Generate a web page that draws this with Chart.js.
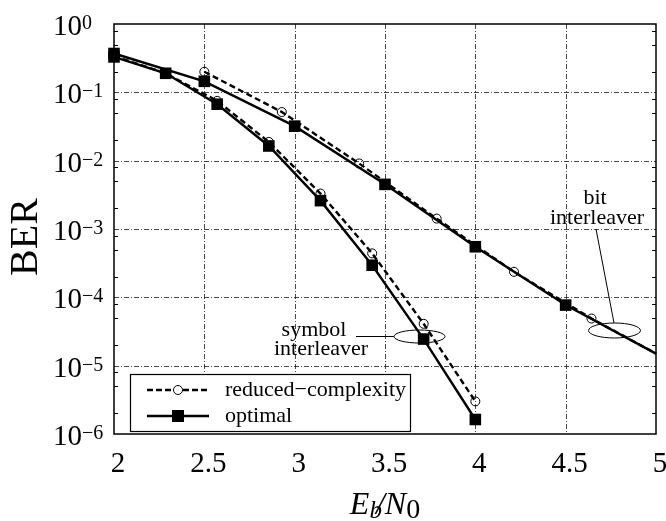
<!DOCTYPE html>
<html>
<head>
<meta charset="utf-8">
<script src="https://cdn.jsdelivr.net/npm/chart.js@4.4.1/dist/chart.umd.min.js"></script>
<style>
html,body{margin:0;padding:0;background:#fff;}
#wrap{width:666px;height:521px;}
</style>
</head>
<body>
<div id="wrap"><canvas id="c" width="666" height="521"></canvas></div>
<script>
// ---- data ----
const bitX      = [2, 2.5, 3, 3.5, 4, 4.5, 5];
const bitOpt    = [0.37, 0.145, 0.032, 0.0045, 5.5e-4, 7.7e-5, 1.5e-5];
const bitRedX   = [2.5, 2.929, 3.357, 3.786, 4.214, 4.643, 5];
const bitRed    = [0.2, 0.0515, 0.0091, 0.00142, 2.36e-4, 4.9e-5, 1.5e-5];
const symX      = [2, 2.286, 2.571, 2.857, 3.143, 3.429, 3.714, 4];
const symOpt    = [0.33, 0.19, 0.067, 0.0164, 0.0026, 2.95e-4, 2.45e-5, 1.63e-6];
const symRed    = [0.34, 0.19, 0.075, 0.0188, 0.0033, 4.4e-4, 4.1e-5, 3.0e-6];

const xTicks      = [2, 2.5, 3, 3.5, 4, 4.5, 5];
const xTickLabels = ['2', '2.5', '3', '3.5', '4', '4.5', '5'];
const yTicks      = [1, 1e-1, 1e-2, 1e-3, 1e-4, 1e-5, 1e-6];
const yTickExps   = ['0', '\u22121', '\u22122', '\u22123', '\u22124', '\u22125', '\u22126'];
const yMinorMult  = [2, 5, 8];

const legendLabels = ['reduced\u2212complexity', 'optimal'];
const xTitle = ['E', 'b', '/', 'N', '0'];
const yTitle = 'BER';
const noteBit = ['bit', 'interleaver'];
const noteSym = ['symbol', 'interleaver'];

function pts(xs, ys){ return xs.map((x,i)=>({x:x, y:ys[i]})); }

const SERIF = '"Liberation Serif","DejaVu Serif",serif';

const dashedStyle = {
  borderColor:'#000', borderWidth:2.4, borderDash:[6,3.5],
  pointStyle:'circle', pointBorderColor:'#000', pointBackgroundColor:'rgba(0,0,0,0)',
  pointBorderWidth:1, fill:false, tension:0, clip:false
};
const solidStyle = {
  borderColor:'#000', borderWidth:2.4,
  pointStyle:'rect', pointBorderColor:'#000', pointBackgroundColor:'#000',
  pointBorderWidth:0, fill:false, tension:0, clip:false
};

function radii(n, r, lastHidden){ const a = new Array(n).fill(r); if(lastHidden) a[n-1]=0; return a; }

const overlay = {
  id:'overlay',
  beforeDatasetsDraw(chart){
    const ctx = chart.ctx, xs = chart.scales.x, ys = chart.scales.y, a = chart.chartArea;
    ctx.save();
    ctx.strokeStyle = 'rgba(40,40,40,0.85)';
    ctx.lineWidth = 1;
    ctx.setLineDash([5,2,1,2]);
    xTicks.forEach(v=>{
      const px = Math.round(xs.getPixelForValue(v))+0.5;
      if (px < a.left+2 || px > a.right-2) return;
      ctx.beginPath(); ctx.moveTo(px, a.top); ctx.lineTo(px, a.bottom); ctx.stroke();
    });
    yTicks.forEach(v=>{
      const py = Math.round(ys.getPixelForValue(v))+0.5;
      if (py < a.top+2 || py > a.bottom-2) return;
      ctx.beginPath(); ctx.moveTo(a.left, py); ctx.lineTo(a.right, py); ctx.stroke();
    });
    ctx.setLineDash([]);
    // minor ticks
    ctx.strokeStyle = '#000';
    for (let i=1;i<yTicks.length;i++){
      yMinorMult.forEach(m=>{
        const val = yTicks[i]*m;
        const py = Math.round(ys.getPixelForValue(val))+0.5;
        ctx.beginPath(); ctx.moveTo(a.left, py); ctx.lineTo(a.left+4, py); ctx.stroke();
        ctx.beginPath(); ctx.moveTo(a.right, py); ctx.lineTo(a.right-4, py); ctx.stroke();
      });
    }
    ctx.restore();
  },
  afterDatasetsDraw(chart){
    const ctx = chart.ctx, xs = chart.scales.x, ys = chart.scales.y, a = chart.chartArea;
    ctx.save();
    // frame
    ctx.strokeStyle = '#000'; ctx.lineWidth = 1.5;
    ctx.strokeRect(a.left, a.top, a.right-a.left, a.bottom-a.top);
    // x tick labels
    ctx.fillStyle = '#000';
    ctx.font = '29px ' + SERIF;
    ctx.textAlign = 'center'; ctx.textBaseline = 'alphabetic';
    xTicks.forEach((v,i)=>{
      ctx.fillText(xTickLabels[i], xs.getPixelForValue(v)+4, a.bottom+38);
    });
    // y tick labels 10^n
    yTicks.forEach((v,i)=>{
      const py = ys.getPixelForValue(v);
      ctx.textAlign = 'left';
      ctx.font = '29px ' + SERIF;
      ctx.fillText('10', 53, py+11);
      const w = ctx.measureText('10').width;
      ctx.font = '20px ' + SERIF;
      ctx.fillText(yTickExps[i], 53+w, py+5);
    });
    // y title
    ctx.save();
    ctx.translate(37, (a.top+a.bottom)/2+8);
    ctx.rotate(-Math.PI/2);
    ctx.font = '40px ' + SERIF;
    ctx.textAlign = 'center';
    ctx.fillText(yTitle, 0, 0);
    ctx.restore();
    // x title  E_b / N_0
    ctx.textAlign = 'left';
    const parts = [
      {t:xTitle[0], f:'italic 32px '+SERIF, dy:0},
      {t:xTitle[1], f:'italic 25px '+SERIF, dy:4},
      {t:xTitle[2], f:'italic 32px '+SERIF, dy:0},
      {t:xTitle[3], f:'italic 32px '+SERIF, dy:0},
      {t:xTitle[4], f:'28px '+SERIF, dy:4}
    ];
    let total = 0;
    parts.forEach(p=>{ ctx.font=p.f; p.w = ctx.measureText(p.t).width; total += p.w; });
    total -= 6;
    let cx = (a.left+a.right)/2 - total/2;
    parts.forEach((p,i)=>{
      ctx.font = p.f;
      if (i===2) cx -= 6;
      ctx.fillText(p.t, cx, 514 + p.dy);
      cx += p.w;
    });
    // annotations
    ctx.font = '22px ' + SERIF;
    ctx.textAlign = 'center';
    ctx.fillText(noteBit[0], 595, 204);
    ctx.fillText(noteBit[1], 597, 224);
    ctx.fillText(noteSym[0], 314, 336);
    ctx.fillText(noteSym[1], 321, 355);
    ctx.lineWidth = 1; ctx.strokeStyle = '#000';
    ctx.beginPath(); ctx.moveTo(596, 229); ctx.lineTo(614, 323); ctx.stroke();
    ctx.beginPath(); ctx.ellipse(614.5, 330.5, 26, 7.5, 0, 0, Math.PI*2); ctx.stroke();
    ctx.beginPath(); ctx.moveTo(356, 336.5); ctx.lineTo(394, 336.5); ctx.stroke();
    ctx.beginPath(); ctx.ellipse(419.5, 336.5, 25.5, 6.5, 0, 0, Math.PI*2); ctx.stroke();
    // legend
    const L = {x:130, y:374, w:280, h:57};
    ctx.fillStyle = '#fff';
    ctx.fillRect(L.x, L.y, L.w, L.h);
    ctx.lineWidth = 1.2; ctx.strokeStyle = '#000';
    ctx.strokeRect(L.x+0.5, L.y+0.5, L.w, L.h);
    const rows = [390, 416];
    ctx.lineWidth = 2.4;
    ctx.setLineDash([6,3]);
    ctx.beginPath(); ctx.moveTo(147, rows[0]); ctx.lineTo(209, rows[0]); ctx.stroke();
    ctx.setLineDash([]);
    ctx.lineWidth = 1;
    ctx.fillStyle = '#fff';
    ctx.beginPath(); ctx.arc(178, rows[0], 4.5, 0, Math.PI*2); ctx.fill(); ctx.stroke();
    ctx.lineWidth = 2.4;
    ctx.beginPath(); ctx.moveTo(147, rows[1]); ctx.lineTo(209, rows[1]); ctx.stroke();
    ctx.fillStyle = '#000';
    ctx.fillRect(172, rows[1]-6, 12, 12);
    ctx.font = '22px ' + SERIF;
    ctx.textAlign = 'left'; ctx.textBaseline = 'middle';
    ctx.fillText(legendLabels[0], 225, rows[0]);
    ctx.fillText(legendLabels[1], 225, rows[1]);
    ctx.restore();
  }
};

new Chart(document.getElementById('c'), {
  type:'line',
  data:{
    datasets:[
      Object.assign({label:'bit reduced', data:pts(bitRedX, bitRed), pointRadius:radii(bitRedX.length,4.5,true)}, dashedStyle),
      Object.assign({label:'sym reduced', data:pts(symX, symRed), pointRadius:radii(symX.length,4.5,false)}, dashedStyle),
      Object.assign({label:'bit optimal', data:pts(bitX, bitOpt), pointRadius:radii(bitX.length,8.2,true)}, solidStyle),
      Object.assign({label:'sym optimal', data:pts(symX, symOpt), pointRadius:radii(symX.length,8.2,false)}, solidStyle)
    ]
  },
  options:{
    responsive:false, animation:false, devicePixelRatio:1,
    layout:{padding:{left:114, top:24, right:10, bottom:87}},
    plugins:{legend:{display:false}, tooltip:{enabled:false}},
    elements:{point:{hoverRadius:0}},
    scales:{
      x:{type:'linear', min:2, max:5, display:false},
      y:{type:'logarithmic', min:1e-6, max:1, display:false}
    }
  },
  plugins:[overlay]
});
</script>
</body>
</html>
